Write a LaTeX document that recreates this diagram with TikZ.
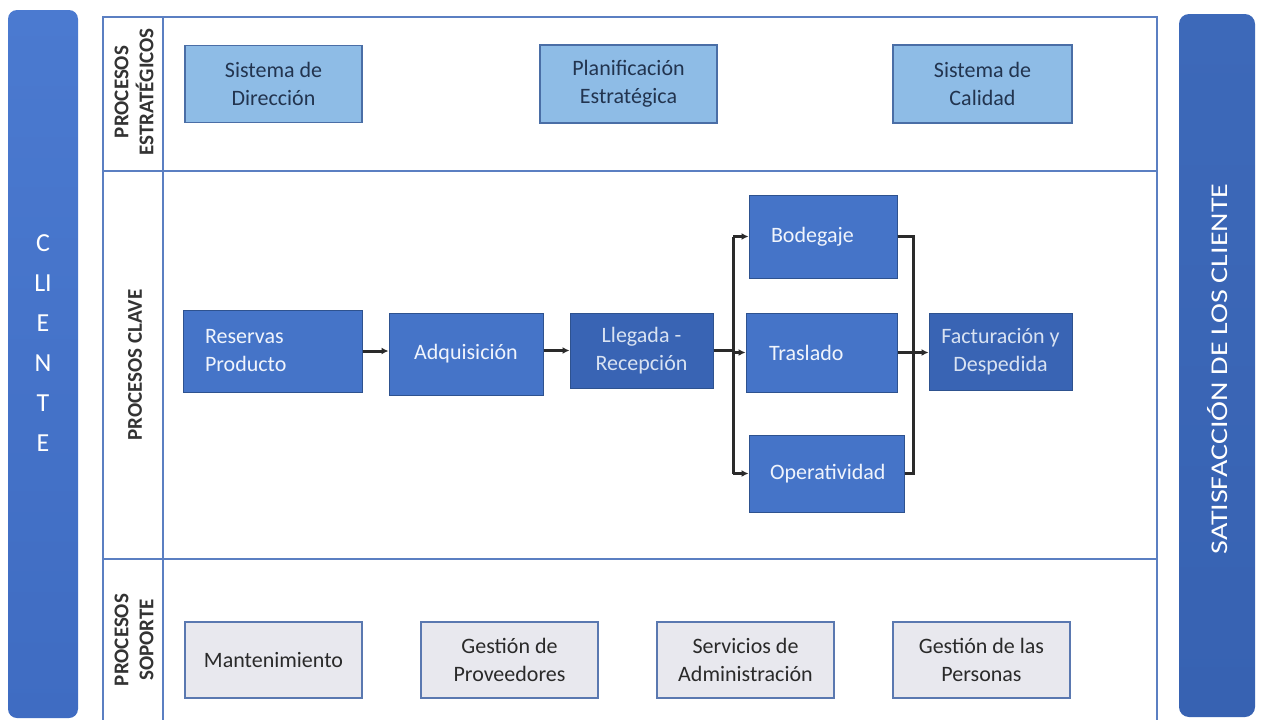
\documentclass[tikz,border=0pt]{standalone}
\usepackage{fontspec}
\setmainfont{Carlito}
\usetikzlibrary{arrows.meta}
\definecolor{frameC}{HTML}{5B7FC2}
\definecolor{stratF}{HTML}{8EBCE6}
\definecolor{stratB}{HTML}{4A6EA6}
\definecolor{stratT}{HTML}{22344F}
\definecolor{keyF}{HTML}{4574C8}
\definecolor{keyD}{HTML}{3964B4}
\definecolor{keyB}{HTML}{2E528F}
\definecolor{keyT}{HTML}{F0F4FC}
\definecolor{keyT2}{HTML}{D8E2F2}
\definecolor{suppF}{HTML}{E8E8EE}
\definecolor{suppB}{HTML}{5A78B0}
\definecolor{suppT}{HTML}{2A2A2A}
\definecolor{connC}{HTML}{2A2A2A}
\definecolor{barL}{HTML}{4B7AD0}
\definecolor{barLb}{HTML}{3F6CC2}
\definecolor{barR}{HTML}{3D69B9}
\definecolor{barRb}{HTML}{3762B2}
\definecolor{labT}{HTML}{333333}
\newcommand{\boxfont}{\fontsize{22}{28}\selectfont}
\begin{document}
\begin{tikzpicture}[x=1pt,y=-1pt,
  frameline/.style={draw=frameC,line width=2pt},
  strat/.style={draw=stratB,fill=stratF,line width=1.5pt,text=stratT,font=\boxfont,align=center,inner sep=0pt},
  keybox/.style={draw=keyB,fill=keyF,line width=1pt,text=keyT,font=\boxfont,inner sep=0pt},
  keydark/.style={keybox,fill=keyD,text=keyT2,align=center},
  supp/.style={draw=suppB,fill=suppF,line width=1.5pt,text=suppT,font=\boxfont,align=center,inner sep=0pt},
  rowlab/.style={rotate=90,font=\bfseries\fontsize{21}{25}\selectfont,text=labT,align=center,inner sep=0pt},
  conn/.style={draw=connC,line width=3pt},
  arr/.style={conn,-{Latex[length=7pt,width=7pt]}}
]
\useasboundingbox (0,0) rectangle (1262,720);
\fill[white] (0,0) rectangle (1262,720);

% side bars
\node[draw=none,top color=barL,bottom color=barLb,rounded corners=9pt,minimum width=70pt,minimum height=708pt,inner sep=0pt] (cbar) at (43,364) {};
\node[text=white,font=\fontsize{26}{40}\selectfont,align=center,inner sep=0pt] (cl) at (43,343) {C\\LI\\E\\N\\T\\E};
\node[draw=none,top color=barR,bottom color=barRb,rounded corners=10pt,minimum width=76pt,minimum height=703pt,inner sep=0pt] (sbar) at (1217,365.5) {};
\node[rotate=90,text=white,font=\fontsize{24}{28}\selectfont,inner sep=0pt] (sat) at (1218,369) {\scalebox{1.25}[1]{SATISFACCIÓN DE LOS CLIENTE}};

% frame
\draw[frameline] (103,721) -- (103,17) -- (1157,17) -- (1157,721);
\draw[frameline] (163,17) -- (163,721);
\draw[frameline] (103,171) -- (1157,171);
\draw[frameline] (103,559) -- (1157,559);

% row labels
\node[rowlab] (lstrat) at (134,92) {PROCESOS\\ESTRATÉGICOS};
\node[rowlab] (lkey) at (135,365) {PROCESOS CLAVE};
\node[rowlab] (lsupp) at (134,640) {PROCESOS\\SOPORTE};

% strategic
\node[strat,minimum width=177pt,minimum height=77pt] (sd) at (273.5,84) {Sistema de\\Dirección};
\node[strat,minimum width=177pt,minimum height=78pt] (pe) at (628.5,84) {Planificación\\Estratégica};
\node[strat,minimum width=179pt,minimum height=78pt] (sc) at (982.5,84) {Sistema de\\Calidad};

% key processes
\node[keybox,minimum width=179pt,minimum height=82pt,inner xsep=22pt,text width=135pt,align=left] (rp) at (272.5,351) {Reservas\\Producto};
\node[keybox,minimum width=154pt,minimum height=82pt,align=center] (aq) at (466,354) {Adquisición};
\node[keydark,minimum width=143pt,minimum height=75pt] (ll) at (641.5,350.5) {Llegada -\\Recepción};
\node[keybox,minimum width=148pt,minimum height=83pt,inner xsep=22pt,text width=104pt,align=left] (bo) at (823,236.5) {Bodegaje};
\node[keybox,minimum width=151pt,minimum height=79pt,inner xsep=23pt,text width=105pt,align=left] (tr) at (821.5,352.5) {Traslado};
\node[keybox,minimum width=155pt,minimum height=77pt,inner xsep=21pt,text width=113pt,align=left] (op) at (826.5,473.5) {Operatividad};
\node[keydark,minimum width=143pt,minimum height=77pt] (fd) at (1000.5,351.5) {Facturación y\\Despedida};

% support
\node[supp,minimum width=177pt,minimum height=76pt] (ma) at (273.5,660) {Mantenimiento};
\node[supp,minimum width=177pt,minimum height=76pt] (gp) at (509.5,660) {Gestión de\\Proveedores};
\node[supp,minimum width=177pt,minimum height=76pt] (sa) at (745.5,660) {Servicios de\\Administración};
\node[supp,minimum width=177pt,minimum height=76pt] (gl) at (981.5,660) {Gestión de las\\Personas};

% connectors
\coordinate (fl) at (733,352);
\coordinate (fr) at (913,352);
\draw[arr] (rp.east) -- (rp.east -| aq.west);
\draw[arr] (aq.east |- ll.west) -- (ll.west);
\draw[conn] (ll.east) -- (fl |- ll.east);
\draw[conn] (fl |- bo.west) -- (fl |- op.west);
\draw[arr] (fl |- bo.west) -- (bo.west);
\draw[arr] (fl |- tr.west) -- (tr.west);
\draw[arr] (fl |- op.west) -- (op.west);
\draw[conn] (bo.east) -- (fr |- bo.east) -- (fr |- op.east) -- (op.east);
\draw[arr] (tr.east) -- (fd.west |- tr.east);
\end{tikzpicture}
\end{document}
